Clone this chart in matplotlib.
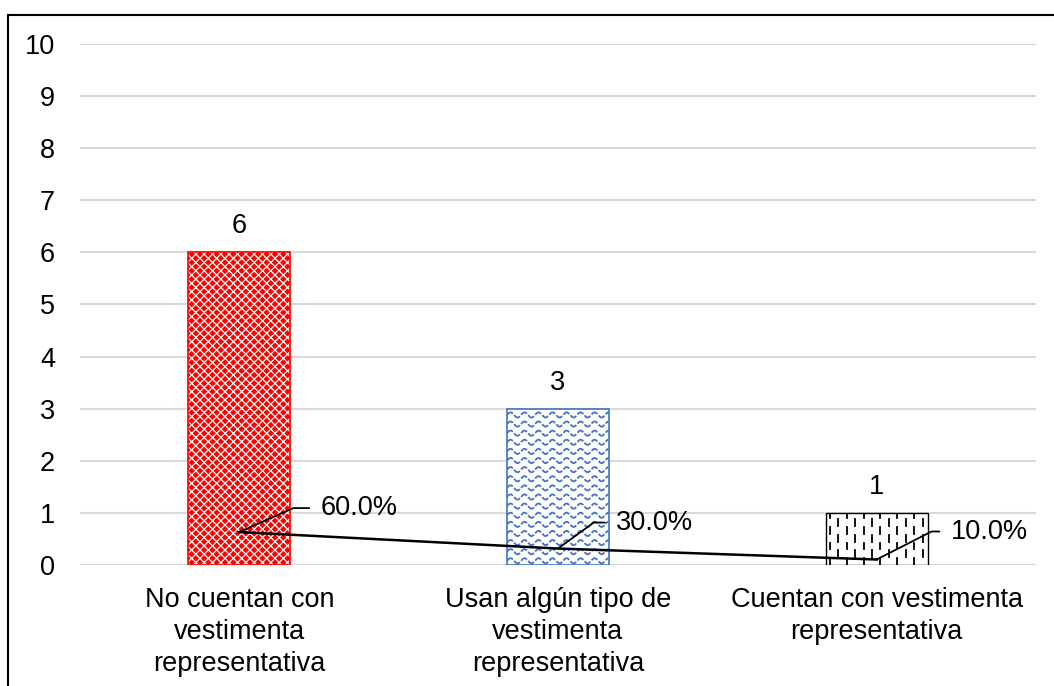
import numpy as np
import matplotlib.pyplot as plt
from matplotlib.lines import Line2D

plt.rcParams['font.family'] = ['Liberation Sans', 'DejaVu Sans']
plt.rcParams['hatch.linewidth'] = 0.9

categories = ['No cuentan con\nvestimenta\nrepresentativa',
              'Usan algún tipo de\nvestimenta\nrepresentativa',
              'Cuentan con vestimenta\nrepresentativa']
counts = [6, 3, 1]
shares = [0.60, 0.30, 0.10]

red = '#FF0000'
blue = '#4472C4'
fs = 19.5

fig = plt.figure(figsize=(10.54, 6.86), dpi=100)
ax = fig.add_axes([0.0759, 0.1764, 0.907, 0.7595])

x = np.arange(len(categories))
w = 0.32

# bar 1: red with white checker texture
ax.bar(x[0], counts[0], w, color=red, edgecolor='white', hatch='xxxx', lw=0, zorder=2)
ax.bar(x[0], counts[0], w, fill=False, edgecolor=red, lw=1.2, zorder=3)

# bar 2: white with blue wavy lines
b2 = ax.bar(x[1], counts[1], w, color='white', edgecolor=blue, lw=1.2, zorder=2)[0]
wx = np.linspace(x[1] - w / 2, x[1] + w / 2, 400)
for yy in np.arange(0.08, counts[1] + 0.2, 0.175):
    ln, = ax.plot(wx, yy + 0.05 * np.sin(2 * np.pi * (wx - wx[0]) / 0.044),
                  color=blue, lw=1.3, dashes=(4, 1), zorder=2.5)
    ln.set_clip_path(b2)

# bar 3: white with short black vertical dashes
b3 = ax.bar(x[2], counts[2], w, color='white', edgecolor='black', lw=1.0, zorder=2)[0]
cols = np.arange(x[2] - w / 2 + 0.013, x[2] + w / 2, 0.0265)
for i, cx in enumerate(cols):
    off = 0.15 if i % 2 else 0.0
    for y0 in np.arange(-0.3 + off, counts[2] + 0.3, 0.3):
        ln, = ax.plot([cx, cx], [y0, y0 + 0.13], color='black', lw=1.3, zorder=2.5)
        ln.set_clip_path(b3)

for xi, c in zip(x, counts):
    ax.annotate(str(c), (xi, c), xytext=(0, 26), textcoords='offset pixels',
                ha='center', va='center', fontsize=fs)

ax.set_xlim(-0.5, 2.5)
ax.set_ylim(0, 10)
ax.set_yticks(range(0, 11))
ax.set_xticks(x)
ax.set_xticklabels(categories, fontsize=fs, linespacing=1.3)
ax.tick_params(axis='y', length=0, labelsize=fs, pad=18)
ax.tick_params(axis='x', length=0, pad=16)
ax.grid(axis='y', color='#D9D9D9', lw=1.5, zorder=0)
ax.set_axisbelow(True)
for s in ax.spines.values():
    s.set_visible(False)

# percentage line on a hidden secondary axis, labels with leader lines
ax2 = ax.twinx()
ax2.set_ylim(0, 9.5)
ax2.axis('off')
ax2.plot(x, shares, color='black', lw=1.8, zorder=4)
label_offsets = [(81, 24), (58, 26), (74, 28)]
leader_angles = [24, 36, 27]
for xi, p, off, ang in zip(x, shares, label_offsets, leader_angles):
    ax2.annotate(f'{p * 100:.1f}%', (xi, p), xytext=off, textcoords='offset pixels',
                 ha='left', va='center', fontsize=fs,
                 arrowprops=dict(arrowstyle='-', color='black', lw=1.3,
                                 connectionstyle=f'angle,angleA=0,angleB={ang},rad=0',
                                 relpos=(0, 0.5), shrinkA=6, shrinkB=0))

# outer frame (left and top edges)
fig.add_artist(Line2D([0.0076, 0.0076], [0, 0.978], color='black', lw=1.5))
fig.add_artist(Line2D([0.0076, 1.0], [0.978, 0.978], color='black', lw=1.5))

fig.savefig('out.png', dpi=100)
